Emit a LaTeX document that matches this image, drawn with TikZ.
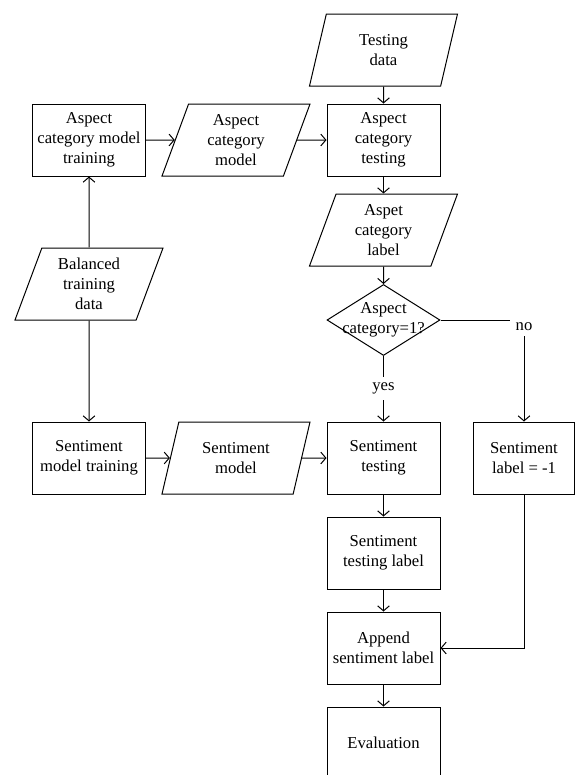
\documentclass[tikz,border=0pt]{standalone}
\usepackage{fontspec}
\setmainfont{Liberation Serif}
\usetikzlibrary{math, arrows.meta, shapes.geometric}

\begin{document}
\begin{tikzpicture}[x=0.6pt, y=-0.6pt, line width=0.6pt,
    >={Straight Barb[length=3pt, width=7pt]},
    box/.style={draw, align=center, minimum width=67.8pt, minimum height=43.2pt, inner sep=2pt},
    iobox/.style={draw, trapezium, trapezium left angle=64, trapezium right angle=116,
        trapezium stretches body, align=center, minimum width=88.8pt, minimum height=43.2pt, inner sep=1pt},
    decision/.style={draw, diamond, minimum width=67.8pt, minimum height=42.6pt, inner sep=0pt}]
    \tikzmath{
        \colleft=89;
        \colmid=236;
        \colmain=383.5;
        \colright=524;
    }
    \useasboundingbox (0, 0) rectangle (575, 775);

    % training side
    \node [box] (acTrain) at (\colleft, 140) {Aspect\\category model\\training};
    \node [iobox] (acModel) at (\colmid, 140) {Aspect\\category\\model};
    \node [iobox] (balanced) at (\colleft, 284) {Balanced\\training\\data};
    \node [box] (sTrain) at (\colleft, 458) {Sentiment\\model training};
    \node [iobox] (sModel) at (\colmid, 458) {Sentiment\\model};

    % testing side
    \node [iobox] (testData) at (\colmain, 50) {Testing\\data};
    \node [box] (acTest) at (\colmain, 140) {Aspect\\category\\testing};
    \node [iobox] (acLabel) at (\colmain, 230) {Aspet\\category\\label};
    \node [decision, label={[align=center]center:Aspect\\category=1?}] (dec) at (\colmain, 320) {};
    \node [box] (sTest) at (\colmain, 458) {Sentiment\\testing};
    \node [box, minimum width=60.6pt] (sLabel) at (\colright, 458) {Sentiment\\label = -1};
    \node [box] (sTestLabel) at (\colmain, 553) {Sentiment\\testing label};
    \node [box] (append) at (\colmain, 648) {Append\\sentiment label};
    \node [box] (eval) at (\colmain, 743) {Evaluation};

    % arrows
    \draw [->] (balanced) -- (acTrain);
    \draw [->] (balanced) -- (sTrain);
    \draw [->] (acTrain) -- (acModel);
    \draw [->] (acModel) -- (acTest);
    \draw [->] (sTrain) -- (sModel);
    \draw [->] (sModel) -- (sTest);
    \draw [->] (testData) -- (acTest);
    \draw [->] (acTest) -- (acLabel);
    \draw [->] (acLabel) -- (dec);
    \draw [->] (dec) -- node [fill=white] {yes} (sTest);
    \draw [->] (dec) -| node [fill=white, pos=0.5, yshift=-4pt] {no} (sLabel);
    \draw [->] (sTest) -- (sTestLabel);
    \draw [->] (sTestLabel) -- (append);
    \draw [->] (sLabel) |- (append);
    \draw [->] (append) -- (eval);
\end{tikzpicture}
\end{document}
